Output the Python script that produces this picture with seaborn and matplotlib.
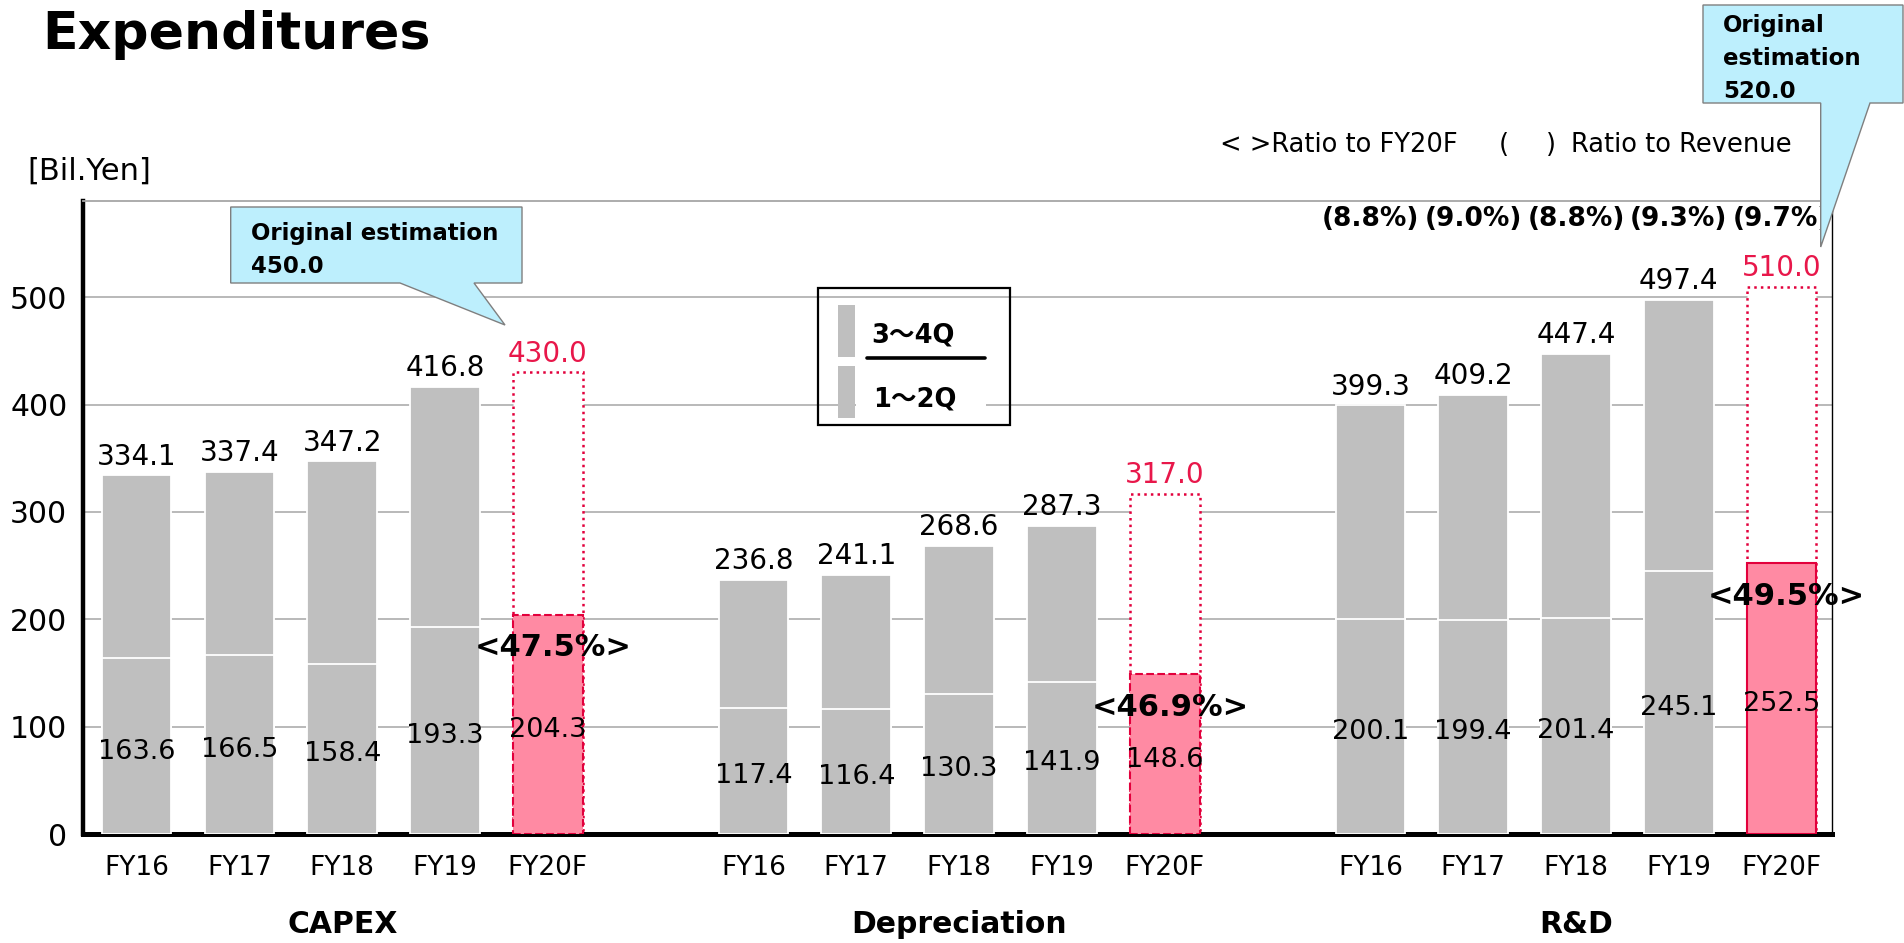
import matplotlib
matplotlib.use("Agg")
import matplotlib.pyplot as plt
import matplotlib.transforms as mtransforms
from matplotlib.patches import Polygon, Rectangle
from matplotlib.lines import Line2D
import pandas as pd
import seaborn as sns

# ---- data (billion yen) ----
groups = ["CAPEX", "Depreciation", "R&D"]
years = ["FY16", "FY17", "FY18", "FY19", "FY20F"]
capex_total = [334.1, 337.4, 347.2, 416.8, 430.0]
capex_h1 = [163.6, 166.5, 158.4, 193.3, 204.3]
dep_total = [236.8, 241.1, 268.6, 287.3, 317.0]
dep_h1 = [117.4, 116.4, 130.3, 141.9, 148.6]
rnd_total = [399.3, 409.2, 447.4, 497.4, 510.0]
rnd_h1 = [200.1, 199.4, 201.4, 245.1, 252.5]
rnd_revenue_ratio = [8.8, 9.0, 8.8, 9.3, 9.7]
capex_original = 450.0
rnd_original = 520.0
yticks = [0, 100, 200, 300, 400, 500]

totals = [capex_total, dep_total, rnd_total]
halves = [capex_h1, dep_h1, rnd_h1]

rows = []
for g, name in enumerate(groups):
    for i, yr in enumerate(years):
        rows.append({
            "group": name, "year": yr, "pos": g * 6 + i,
            "total": totals[g][i], "h1": halves[g][i],
            "forecast": yr.endswith("F"),
        })
df = pd.DataFrame(rows)

GRAY = "#BFBFBF"
PINK = "#FF8AA3"
RED = "#E2003C"
RED_TEXT = "#E8174A"
GRID = "#A6A6A6"
CALLOUT = "#BDEFFD"

sns.set_style("white")
plt.rcParams["font.family"] = ["DejaVu Sans", "Noto Sans CJK JP"]
plt.rcParams["text.color"] = "black"
plt.rcParams["xtick.color"] = "black"
plt.rcParams["ytick.color"] = "black"
plt.rcParams["axes.labelcolor"] = "black"

W, H = 1904, 943
fig = plt.figure(figsize=(W / 100, H / 100), dpi=100)
ax = fig.add_axes([82.6 / W, 1 - 834 / H, (1832 - 82.6) / W, (834 - 200.7) / H])


def fxy(x, y):
    return (x / W, 1 - y / H)


BAR_W = 0.677

# full-year bars, then first-half bars drawn over them
n0 = len(ax.patches)
sns.barplot(data=df, x="pos", y="total", native_scale=True, width=BAR_W,
            color=GRAY, saturation=1, edgecolor="white", linewidth=1.3,
            errorbar=None, ax=ax, zorder=2)
total_bars = ax.patches[n0:]
n1 = len(ax.patches)
sns.barplot(data=df, x="pos", y="h1", native_scale=True, width=BAR_W,
            color=GRAY, saturation=1, edgecolor="white", linewidth=1.3,
            errorbar=None, ax=ax, zorder=3)
h1_bars = ax.patches[n1:]


def by_pos(patches):
    return {round(p.get_x() + p.get_width() / 2): p for p in patches}


tb, hb = by_pos(total_bars), by_pos(h1_bars)
for _, r in df[df.forecast].iterrows():
    p = tb[r.pos]
    p.set_facecolor("white")
    p.set_edgecolor(RED)
    p.set_linestyle(":")
    p.set_linewidth(1.8)
    q = hb[r.pos]
    q.set_facecolor(PINK)
    q.set_edgecolor(RED)
    q.set_linestyle("-" if r.group == "R&D" else "--")
    q.set_linewidth(1.5)

# axes styling
ax.set_xlim(-0.525, 16.49)
ax.set_ylim(0, 590)
ax.set_axisbelow(True)
ax.yaxis.grid(True, color=GRID, linewidth=1.1)
ax.xaxis.grid(False)
ax.set_xlabel("")
ax.set_ylabel("")
ax.set_yticks(yticks)
ax.set_yticklabels([str(v) for v in yticks], fontsize=21.5, color="black")
ax.set_xticks(df.pos)
ax.set_xticklabels(df.year, fontsize=19, color="black")
ax.tick_params(axis="y", length=0, pad=11)
ax.tick_params(axis="x", length=0, pad=15)
for side, (col, lw) in {"left": ("black", 3.2), "bottom": ("black", 3.6),
                        "top": (GRID, 1.3), "right": ("black", 1.0)}.items():
    ax.spines[side].set_color(col)
    ax.spines[side].set_linewidth(lw)
    ax.spines[side].set_visible(True)

# value labels
for _, r in df.iterrows():
    ax.text(r.pos, r.total + 10, f"{r.total:.1f}", ha="center", va="baseline",
            fontsize=20, color=RED_TEXT if r.forecast else "black", zorder=6)
    ax.text(r.pos, r.h1 / 2 - 5, f"{r.h1:.1f}", ha="center", va="center",
            fontsize=19.5, color="black", zorder=6)
    if r.forecast:
        ax.text(r.pos + 0.05, r.h1 - 31, f"<{r.h1 / r.total * 100:.1f}%>",
                ha="center", va="center", fontsize=22, fontweight="bold",
                color="black", zorder=7)

# R&D ratio to revenue
rnd_pos = df[df.group == "R&D"].pos.tolist()
for x, v in zip(rnd_pos, rnd_revenue_ratio):
    ax.text(x, 573, f"({v:.1f}%)", ha="center", va="center", fontsize=19,
            fontweight="bold", color="black", zorder=6)

# group captions under the tick labels
blend = mtransforms.blended_transform_factory(ax.transData, fig.transFigure)
for name in groups:
    c = df[df.group == name].pos.mean()
    ax.text(c, 1 - 933 / H, name, transform=blend, ha="center", va="baseline",
            fontsize=21.5, fontweight="bold", color="black", clip_on=False)

# title and unit
fig.text(*fxy(42.5, 48.5), "Expenditures", fontsize=37.5, fontweight="bold",
         ha="left", va="baseline", color="black")
fig.text(*fxy(27, 171), "[Bil.Yen]", fontsize=22, ha="left", va="center",
         color="black")

# notation note
for x, s in [(1220, "< >Ratio to FY20F"), (1499, "("), (1546, ")"),
             (1571, "Ratio to Revenue")]:
    fig.text(*fxy(x, 152), s, fontsize=18.5, ha="left", va="baseline",
             color="black")

# legend box
fig.add_artist(Rectangle(fxy(817.7, 425), (1010 - 817.7) / W, (425 - 288) / H,
                         transform=fig.transFigure, facecolor="none",
                         edgecolor="black", linewidth=1.6, zorder=3))
fig.add_artist(Rectangle(fxy(838, 357), 17 / W, 52 / H, transform=fig.transFigure,
                         facecolor=GRAY, edgecolor="none", zorder=3))
fig.add_artist(Rectangle(fxy(838, 418), 17 / W, 52 / H, transform=fig.transFigure,
                         facecolor=GRAY, edgecolor="none", zorder=3))
fig.add_artist(Rectangle(fxy(856, 418), (986 - 856) / W, 34 / H,
                         transform=fig.transFigure, facecolor="white",
                         edgecolor="none", zorder=3))
fig.add_artist(Line2D([866.7 / W, 985 / W], [1 - 357.7 / H, 1 - 357.7 / H],
                      transform=fig.transFigure, color="black", linewidth=2.6,
                      zorder=4))
fig.text(*fxy(871.7, 343), "3～4Q", fontsize=18.5, fontweight="bold",
         ha="left", va="baseline", zorder=5, color="black")
fig.text(*fxy(873, 407), "1～2Q", fontsize=18.5, fontweight="bold",
         ha="left", va="baseline", zorder=5, color="black")


# callouts for the original estimates
def callout(left, top, right, bottom, base1, base2, tip):
    pts = [(left, top), (right, top), (right, bottom), (base2, bottom), tip,
           (base1, bottom), (left, bottom)]
    fig.add_artist(Polygon([fxy(*p) for p in pts], closed=True,
                           transform=fig.transFigure, facecolor=CALLOUT,
                           edgecolor="#7F7F7F", linewidth=1.0, zorder=8))


callout(230.7, 207, 522, 283, 400, 474, (505, 325))
fig.text(*fxy(251, 240), "Original estimation", fontsize=16.5, fontweight="bold",
         ha="left", va="baseline", zorder=9, color="black")
fig.text(*fxy(251, 273), f"{capex_original:.1f}", fontsize=16.5, fontweight="bold",
         ha="left", va="baseline", zorder=9, color="black")

callout(1703, 5, 1903, 103, 1820.7, 1870, (1820.7, 247))
for k, line in enumerate(["Original", "estimation", f"{rnd_original:.1f}"]):
    fig.text(*fxy(1723, 32 + 33 * k), line, fontsize=16.5, fontweight="bold",
             ha="left", va="baseline", zorder=9, color="black")

fig.savefig("out.png", dpi=100)
